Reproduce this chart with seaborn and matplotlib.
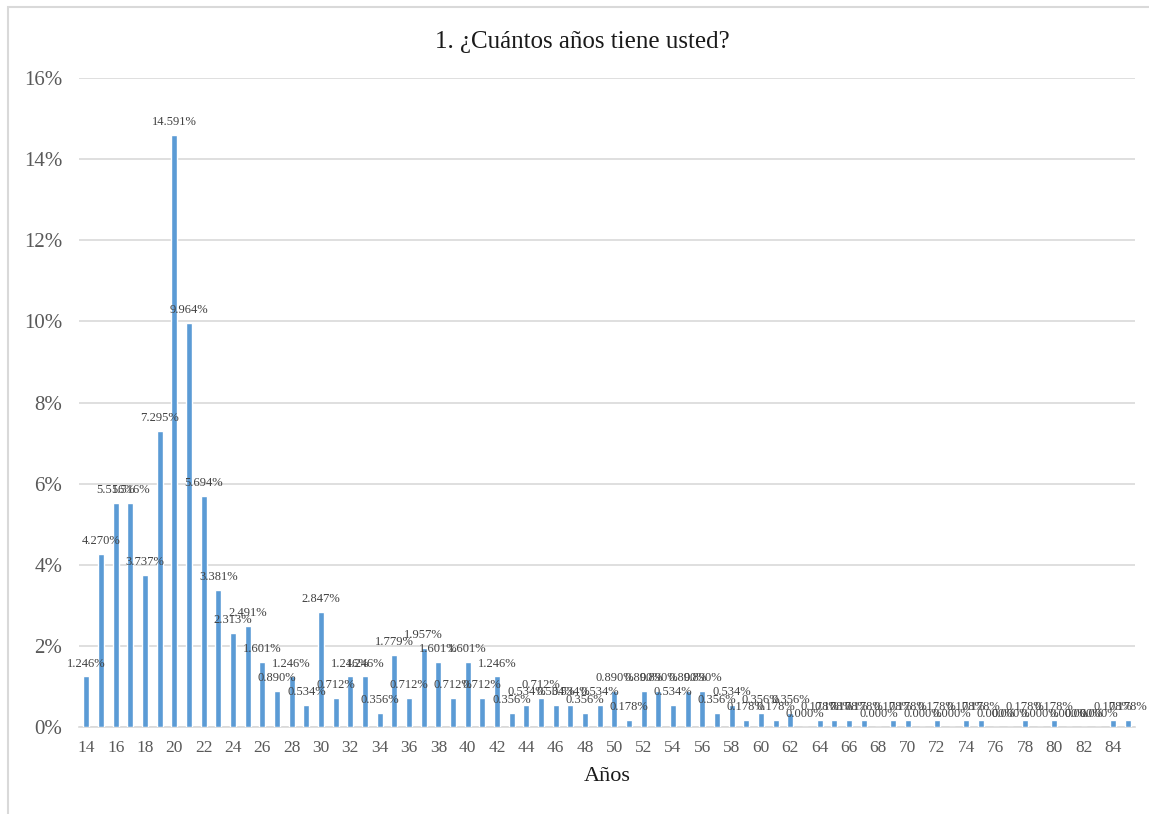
import matplotlib
matplotlib.use("Agg")
import matplotlib.pyplot as plt
import matplotlib.patches as mpatches
from matplotlib.ticker import FuncFormatter
import seaborn as sns
import pandas as pd

# Age of respondents (years) and share of responses (%)
ages = list(range(14, 86))
percent = [
    1.246, 4.270, 5.516, 5.516, 3.737, 7.295, 14.591, 9.964, 5.694, 3.381,   # 14-23
    2.313, 2.491, 1.601, 0.890, 1.246, 0.534, 2.847, 0.712, 1.246, 1.246,    # 24-33
    0.356, 1.779, 0.712, 1.957, 1.601, 0.712, 1.601, 0.712, 1.246, 0.356,    # 34-43
    0.534, 0.712, 0.534, 0.534, 0.356, 0.534, 0.890, 0.178, 0.890, 0.890,    # 44-53
    0.534, 0.890, 0.890, 0.356, 0.534, 0.178, 0.356, 0.178, 0.356, 0.000,    # 54-63
    0.178, 0.178, 0.178, 0.178, 0.000, 0.178, 0.178, 0.000, 0.178, 0.000,    # 64-73
    0.178, 0.178, 0.000, 0.000, 0.178, 0.000, 0.178, 0.000, 0.000, 0.000,    # 74-83
    0.178, 0.178,                                                            # 84-85
]
title = "1. ¿Cuántos años tiene usted?"
x_label = "Años"

df = pd.DataFrame({"edad": [str(a) for a in ages], "pct": percent})

sns.set_theme(style="white")
plt.rcParams["font.family"] = ["Liberation Serif", "DejaVu Serif"]

BAR = "#5B9BD5"
GRID = "#D9D9D9"
TICK = "#595959"

fig = plt.figure(figsize=(11.49, 8.14), dpi=100)
ax = fig.add_axes([79 / 1149, 1 - 727 / 814, (1135 - 79) / 1149, (727 - 78) / 814])

sns.barplot(data=df, x="edad", y="pct", color=BAR, width=0.4, saturation=1,
            order=df["edad"], ax=ax, zorder=3)

ax.set_xlim(-0.5, len(ages) - 0.5)
ax.set_ylim(0, 16)
ax.set_yticks(range(0, 17, 2))
ax.yaxis.set_major_formatter(FuncFormatter(lambda v, _: f"{v:.0f}%"))
ax.set_xticks(range(0, len(ages), 2))
ax.set_xticklabels([str(a) for a in ages[::2]])

ax.grid(axis="y", color=GRID, linewidth=1.2, zorder=0)
ax.grid(axis="x", visible=False)
for side in ["top", "right", "left"]:
    ax.spines[side].set_visible(False)
ax.spines["bottom"].set_color(GRID)
ax.spines["bottom"].set_linewidth(1.2)
ax.tick_params(axis="y", length=0, pad=12, labelsize=15, labelcolor=TICK)
ax.tick_params(axis="x", length=0, pad=9, labelsize=12.5, labelcolor=TICK)

ax.set_xlabel(x_label, fontsize=16, color="#1a1a1a", labelpad=8)
ax.set_ylabel("")

# Value labels above every bar
for i, v in enumerate(percent):
    ax.annotate(f"{v:.3f}%", xy=(i, v), xytext=(0, 5), textcoords="offset points",
                ha="center", va="bottom", fontsize=9, color="#404040", zorder=4)

fig.text(582 / 1149, 1 - 42 / 814, title, ha="center", va="center",
         fontsize=18, color="#1a1a1a")

# Chart frame
fig.patches.append(mpatches.Rectangle((8 / 1149, -0.2), 1.2, 1.2 - 7 / 814 + 0.0,
                                      transform=fig.transFigure, fill=False,
                                      edgecolor=GRID, linewidth=1.5))

fig.savefig("out.png", dpi=100, facecolor="white")
